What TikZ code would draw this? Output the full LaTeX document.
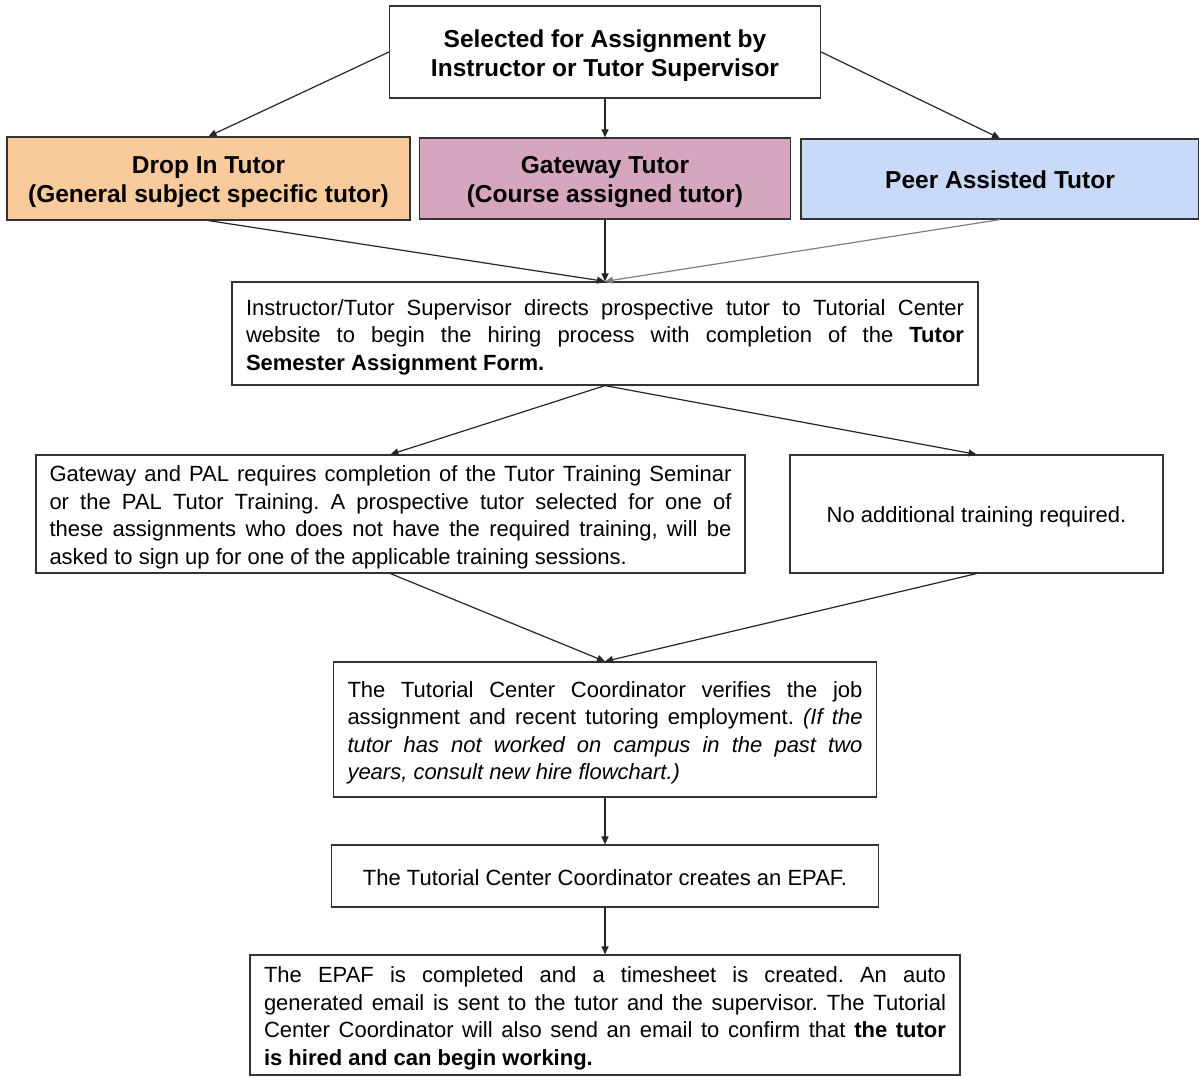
\documentclass[tikz,border=0pt]{standalone}
\usepackage{fontspec}
\setmainfont{Liberation Sans}
\usetikzlibrary{arrows.meta}
\definecolor{dropc}{HTML}{F9CB9C}
\definecolor{gatec}{HTML}{D5A6BD}
\definecolor{peerc}{HTML}{C9DAF8}
\definecolor{edgec}{HTML}{333333}
\newcommand\jline[1]{\makebox[\hsize][s]{#1}}
\newenvironment{bodytext}[2][7]{\begin{minipage}{#2pt}\frenchspacing\vspace*{#1pt}\fontsize{22}{27.5}\selectfont}{\end{minipage}}
\newenvironment{headtext}[2][7]{\begin{minipage}{#2pt}\centering\vspace*{#1pt}\bfseries\fontsize{24.5}{29}\selectfont}{\end{minipage}}
\begin{document}
\begin{tikzpicture}[x=1pt,y=-1pt,
  box/.style={draw=edgec,line width=1.2pt,inner sep=0pt,anchor=center},
  conn/.style={line width=1.2pt,draw=black!85,-{Triangle[length=8pt,width=7pt]}}]
\useasboundingbox (0,0) rectangle (1199,1078);
\fill[white] (0,0) rectangle (1199,1078);
% top row
\node[box,minimum width=431,minimum height=92] (top) at (605,52)
  {\begin{headtext}{431}Selected for Assignment by\\Instructor or Tutor Supervisor\end{headtext}};
\node[box,fill=dropc,minimum width=403,minimum height=83] (drop) at (208.5,178.5)
  {\begin{headtext}{403}Drop In Tutor\\(General subject specific tutor)\end{headtext}};
\node[box,fill=gatec,minimum width=371,minimum height=81] (gate) at (605,178.5)
  {\begin{headtext}{371}Gateway Tutor\\(Course assigned tutor)\end{headtext}};
\node[box,fill=peerc,minimum width=398,minimum height=80] (peer) at (1000,179)
  {\begin{headtext}[2]{398}Peer Assisted Tutor\end{headtext}};
% instructor
\node[box,minimum width=746,minimum height=103] (instr) at (605,333.5) {%
  \begin{bodytext}{718}
  \jline{Instructor/Tutor Supervisor directs prospective tutor to Tutorial Center}\\
  \jline{website to begin the hiring process with completion of the \textbf{Tutor}}\\
  \textbf{Semester Assignment Form.}
  \end{bodytext}};
% training
\node[box,minimum width=709,minimum height=118] (train) at (390.5,514) {%
  \begin{bodytext}{682}
  \jline{Gateway and PAL requires completion of the Tutor Training Seminar}\\
  \jline{or the PAL Tutor Training. A prospective tutor selected for one of}\\
  \jline{these assignments who does not have the required training, will be}\\
  asked to sign up for one of the applicable training sessions.
  \end{bodytext}};
\node[box,minimum width=373,minimum height=118] (noadd) at (976.5,514)
  {\begin{bodytext}[6]{373}\centering No additional training required.\end{bodytext}};
% coordinator
\node[box,minimum width=543,minimum height=135] (coord) at (605,729.5) {%
  \begin{bodytext}{515}
  \jline{The Tutorial Center Coordinator verifies the job}\\
  \jline{assignment and recent tutoring employment. \textit{(If the}}\\
  \jline{\textit{tutor has not worked on campus in the past two}}\\
  \textit{years, consult new hire flowchart.)}
  \end{bodytext}};
\node[box,minimum width=547,minimum height=62] (epaf) at (605,876)
  {\begin{bodytext}[4]{547}\centering The Tutorial Center Coordinator creates an EPAF.\end{bodytext}};
\node[box,minimum width=710,minimum height=120] (final) at (605,1015) {%
  \begin{bodytext}{682}
  \jline{The EPAF is completed and a timesheet is created. An auto}\\
  \jline{generated email is sent to the tutor and the supervisor. The Tutorial}\\
  \jline{Center Coordinator will also send an email to confirm that \textbf{the tutor}}\\
  \textbf{is hired and can begin working.}
  \end{bodytext}};
% connectors
\draw[conn] (top.west) -- (drop.north);
\draw[conn] (top.south) -- (gate.north);
\draw[conn] (top.east) -- (peer.north);
\draw[conn] (drop.south) -- (instr.north);
\draw[conn] (gate.south) -- (instr.north);
\draw[conn,draw=black!50] (peer.south) -- (instr.north);
\draw[conn] (instr.south) -- (train.north);
\draw[conn] (instr.south) -- (noadd.north);
\draw[conn] (train.south) -- (coord.north);
\draw[conn] (noadd.south) -- (coord.north);
\draw[conn] (coord.south) -- (epaf.north);
\draw[conn] (epaf.south) -- (final.north);
\end{tikzpicture}
\end{document}
